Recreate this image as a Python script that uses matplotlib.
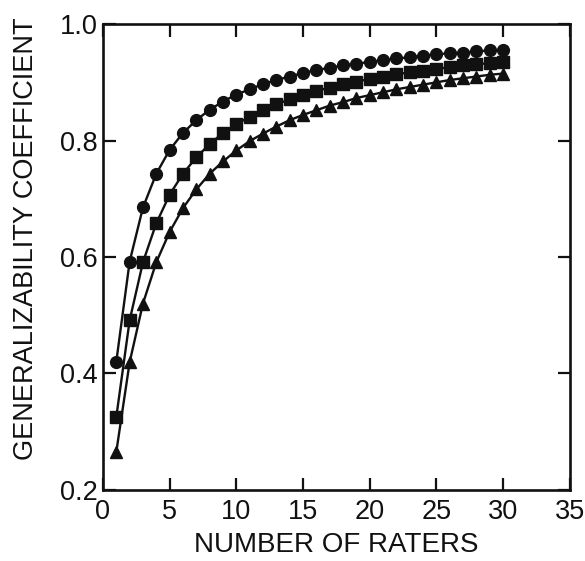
import matplotlib
matplotlib.use("Agg")
import matplotlib.pyplot as plt

plt.rcParams['font.family'] = ['Liberation Sans', 'DejaVu Sans']

raters = list(range(1, 31))
circles = [0.420, 0.592, 0.685, 0.743, 0.784, 0.813, 0.835, 0.853, 0.867, 0.879,
           0.888, 0.897, 0.904, 0.910, 0.916, 0.921, 0.925, 0.929, 0.932, 0.935,
           0.938, 0.941, 0.943, 0.946, 0.948, 0.950, 0.951, 0.953, 0.955, 0.956]
squares = [0.325, 0.491, 0.591, 0.658, 0.707, 0.743, 0.771, 0.794, 0.813, 0.828,
           0.841, 0.852, 0.862, 0.871, 0.878, 0.885, 0.891, 0.897, 0.901, 0.906,
           0.910, 0.914, 0.917, 0.920, 0.923, 0.926, 0.929, 0.931, 0.933, 0.935]
triangles = [0.265, 0.419, 0.520, 0.591, 0.643, 0.684, 0.716, 0.743, 0.764, 0.783,
             0.799, 0.812, 0.824, 0.835, 0.844, 0.852, 0.860, 0.866, 0.873, 0.878,
             0.883, 0.888, 0.892, 0.896, 0.900, 0.904, 0.907, 0.910, 0.913, 0.915]
xticks = [0, 5, 10, 15, 20, 25, 30, 35]
yticks = [0.2, 0.4, 0.6, 0.8, 1.0]

fig = plt.figure(figsize=(5.85, 5.61), dpi=100)
ax = fig.add_axes([0.176, 0.127, 0.798, 0.830])

c = '#111111'
ax.plot(raters, circles, '-o', color=c, lw=1.7, ms=8.5)
ax.plot(raters, squares, '-s', color=c, lw=1.7, ms=8)
ax.plot(raters, triangles, '-^', color=c, lw=1.7, ms=8.5)

ax.set_xlim(0, 35)
ax.set_ylim(0.2, 1.0)
ax.set_xticks(xticks)
ax.set_yticks(yticks)
ax.set_xticklabels([str(v) for v in xticks])
ax.set_yticklabels([f"{v:.1f}" for v in yticks])
ax.tick_params(direction='in', length=9, width=1.6, top=True, right=True,
               labelsize=19.5, colors=c)
ax.tick_params(axis='x', pad=7)
ax.tick_params(axis='y', pad=4)
for s in ax.spines.values():
    s.set_linewidth(1.9)
    s.set_color(c)

ax.set_xlabel('NUMBER OF RATERS', fontsize=20, color=c, labelpad=5)
ax.set_ylabel('GENERALIZABILITY COEFFICIENT', fontsize=19.5, color=c)
ax.yaxis.set_label_coords(-0.137, 0.54)

fig.savefig('out.png', dpi=100)
